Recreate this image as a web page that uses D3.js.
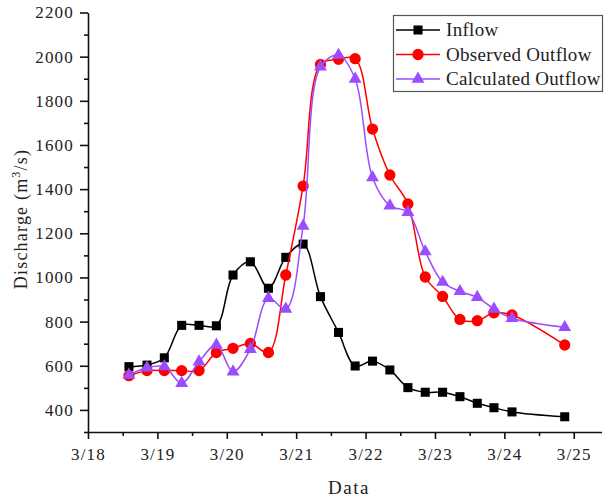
<!DOCTYPE html>
<html>
<head>
<meta charset="utf-8">
<script src="https://cdn.jsdelivr.net/npm/d3@7"></script>
<style>
  body { margin: 0; background: #fff; }
  text { font-family: "Liberation Serif", "Times New Roman", serif; fill: #222; }
</style>
</head>
<body>
<div id="chart"></div>
<script>
// time of each sample, in days after 3/18 00:00
var days = [0.59, 0.85, 1.10, 1.35, 1.60, 1.85, 2.09, 2.34, 2.60, 2.85, 3.10, 3.35,
            3.61, 3.85, 4.10, 4.35, 4.61, 4.86, 5.11, 5.36, 5.61, 5.85, 6.11, 6.87];

var inflow = [596, 603, 636, 783, 783, 781, 1011, 1071, 951, 1091, 1151, 913,
              751, 599, 621, 581, 501, 480, 480, 460, 430, 410, 391, 369];

var observed = [555, 578, 578, 578, 578, 660, 679, 701, 660, 1011, 1414, 1965,
                1988, 1991, 1672, 1464, 1333, 1002, 914, 810, 804, 840, 830, 694];

var calculated = [558, 591, 596, 521, 618, 694, 573, 675, 906, 857, 1233, 1954,
                  2007, 1899, 1453, 1325, 1295, 1117, 979, 937, 910, 857, 815, 774];

var dayLabels = ["3/18", "3/19", "3/20", "3/21", "3/22", "3/23", "3/24", "3/25"];
var yTicks = [400, 600, 800, 1000, 1200, 1400, 1600, 1800, 2000, 2200];

var width = 605, height = 499;

var svg = d3.select("#chart").append("svg")
    .attr("width", width)
    .attr("height", height);

var x = d3.scaleLinear().domain([0, 7.4]).range([88, 601.5]);
var y = d3.scaleLinear().domain([300, 2200]).range([432, 12.5]);

// minor ticks (half day / 100 m3/s)
svg.append("g")
    .attr("transform", "translate(0,432)")
    .call(d3.axisBottom(x).tickValues(d3.range(0.5, 7.4, 1)).tickSize(4).tickFormat(""))
    .call(function (g) { g.select(".domain").remove(); });

svg.append("g")
    .attr("transform", "translate(88,0)")
    .call(d3.axisLeft(y).tickValues(yTicks.map(function (v) { return v - 100; })).tickSize(4).tickFormat(""))
    .call(function (g) { g.select(".domain").remove(); });

svg.append("g")
    .attr("transform", "translate(0,432)")
    .call(d3.axisBottom(x)
        .tickValues(d3.range(0, 8))
        .tickFormat(function (d) { return dayLabels[d]; })
        .tickSize(7).tickPadding(9).tickSizeOuter(0));

svg.append("g")
    .attr("transform", "translate(88,0)")
    .call(d3.axisLeft(y)
        .tickValues(yTicks)
        .tickFormat(d3.format("d"))
        .tickSize(8).tickPadding(6).tickSizeOuter(0));

svg.selectAll(".tick text")
    .attr("font-family", "Liberation Serif")
    .attr("font-size", 17)
    .attr("letter-spacing", "1.2px")
    .attr("fill", "#1a1a1a");

svg.selectAll(".domain, .tick line")
    .attr("stroke", "#111")
    .attr("stroke-width", 1.6);

svg.append("text")
    .attr("x", 349)
    .attr("y", 494)
    .attr("text-anchor", "middle")
    .attr("font-size", 19)
    .attr("letter-spacing", "1.5px")
    .text("Data");

var ylab = svg.append("text")
    .attr("transform", "translate(27,219) rotate(-90)")
    .attr("text-anchor", "middle")
    .attr("font-size", 18)
    .attr("letter-spacing", "1.2px");
ylab.append("tspan").text("Discharge (m");
ylab.append("tspan").attr("font-size", 12).attr("dy", -7).text("3");
ylab.append("tspan").attr("dy", 7).text("/s)");

var series = [
    { name: "Inflow", values: inflow, color: "#000000", shape: d3.symbolSquare, size: 82 },
    { name: "Observed Outflow", values: observed, color: "#ff0000", shape: d3.symbolCircle, size: 100 },
    { name: "Calculated Outflow", values: calculated, color: "#9b4cff", shape: d3.symbolTriangle, size: 72 }
];

var line = d3.line()
    .x(function (d) { return x(d[0]); })
    .y(function (d) { return y(d[1]); })
    .curve(d3.curveCatmullRom.alpha(0.5));

series.forEach(function (s) {
    var pts = days.map(function (t, i) { return [t, s.values[i]]; });
    var g = svg.append("g");
    g.append("path")
        .datum(pts)
        .attr("fill", "none")
        .attr("stroke", s.color)
        .attr("stroke-width", 1.5)
        .attr("d", line);
    g.selectAll("path.pt")
        .data(pts)
        .enter().append("path")
        .attr("class", "pt")
        .attr("transform", function (d) { return "translate(" + x(d[0]) + "," + y(d[1]) + ")"; })
        .attr("d", d3.symbol().type(s.shape).size(s.size))
        .attr("fill", s.color);
});

// legend
var legend = svg.append("g").attr("transform", "translate(393,15)");
legend.append("rect")
    .attr("x", 0.5).attr("y", 0.5)
    .attr("width", 209).attr("height", 76)
    .attr("fill", "#fff")
    .attr("stroke", "#555")
    .attr("stroke-width", 1.2);

series.forEach(function (s, i) {
    var ly = 15 + i * 24.5;
    legend.append("line")
        .attr("x1", 3).attr("x2", 47)
        .attr("y1", ly).attr("y2", ly)
        .attr("stroke", s.color)
        .attr("stroke-width", 1.5);
    legend.append("path")
        .attr("transform", "translate(25," + ly + ")")
        .attr("d", d3.symbol().type(s.shape).size(s.size))
        .attr("fill", s.color);
    legend.append("text")
        .attr("x", 53)
        .attr("y", ly + 6)
        .attr("font-size", 19)
        .attr("letter-spacing", "0.3px")
        .text(s.name);
});
</script>
</body>
</html>
